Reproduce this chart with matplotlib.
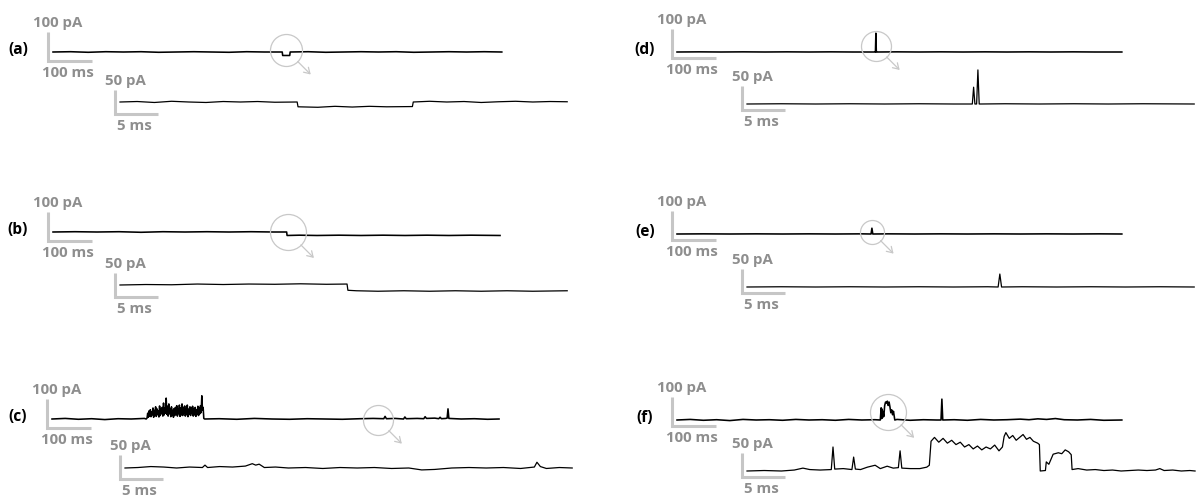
import matplotlib
matplotlib.use('Agg')
import matplotlib.pyplot as plt
from matplotlib.transforms import offset_copy

# ================= Global Style =================
plt.rcParams['font.family'] = ['Open Sans', 'DejaVu Sans']
plt.rcParams['font.weight'] = 'bold'

W, H = 1199, 497                 # output size in pixels
SX_TOP, SY_TOP = 0.44, 0.29      # px per ms, px per pA (overview traces)
SX_BOT, SY_BOT = 8.6, 0.48       # px per ms, px per pA (zoomed traces)

GRAY_TXT = '#8e8e8e'
GRAY_BAR = '#c6c6c6'
GRAY_CIRC = '#c8c8c8'

# ================= Data (time in ms, current in pA) =================
A_TOP_T = [0, 40, 80, 120, 160, 200, 240, 280, 320, 360, 400, 440, 480, 521, 522,
           538, 539, 580, 620, 660, 700, 740, 780, 820, 860, 900, 940, 980, 1020]
A_TOP_I = [0, 1, -1, 1, 0, 1, -1, 0, 1, 0, -1, 1, 0, 0, -12,
           -12, 0, 1, -1, 0, 1, 0, 1, -1, 0, 1, 0, 1, 0]
A_BOT_T = [0, 2, 4, 6, 8, 10, 12, 14, 16, 18, 20.6, 20.7, 23, 25, 27, 29, 31, 34.0,
           34.1, 36, 38, 40, 42, 44, 46, 48, 50, 52]
A_BOT_I = [0, 1, -1, 1.5, 0, -1, 1, 0, 1, -0.5, 0, -10, -11, -9, -10.5, -9, -10, -9.5,
           0, 1.5, 0, 1, -1, 0.5, 1.5, 0, 1, 0.5]

B_TOP_T = [0, 50, 100, 150, 200, 250, 300, 350, 400, 450, 500, 531, 532, 560, 600,
           650, 700, 750, 800, 850, 900, 950, 1016]
B_TOP_I = [0, 1, 0, 1, -1, 1, 0, 1, 0, 1, 0, 0, -12, -11, -12,
           -11, -12, -11, -12, -11, -12, -11, -12]
B_BOT_T = [0, 3, 6, 9, 12, 15, 18, 21, 24, 26.4, 26.5, 27.5, 30, 33, 36, 39, 42, 45, 48, 52]
B_BOT_I = [0, 1, 0.5, 2, 1, 2, 1.5, 2.5, 1.5, 2, -11, -12, -13, -12, -13, -12, -13, -12, -13, -12]

C_TOP_T = [0, 30, 60, 90, 120, 150, 180, 210, 214,
           216, 217.5, 219, 220.5, 222, 223.5, 225, 226.5, 228, 229.5,
           231, 232.5, 234, 235.5, 237, 238.5, 240, 241.5, 243, 244.5,
           246, 247.5, 249, 250.5, 252, 253.5, 255, 256.5, 258, 259.5,
           261, 262.5, 264, 265.5, 267, 268.5, 270, 271.5, 273, 274.5,
           276, 277.5, 279, 280.5, 282, 283.5, 285, 286.5, 288, 289.5,
           291, 292.5, 294, 295.5, 297, 298.5, 300, 301.5, 303, 304.5,
           306, 307.5, 309, 310.5, 312, 313.5, 315, 316.5, 318, 319.5,
           321, 322.5, 324, 325.5, 327, 328.5, 330, 331.5, 333, 334.5,
           336, 337.5, 339, 340.5, 342, 343.5, 345,
           347, 380, 420, 460, 500, 540, 580, 620, 660, 700,
           730, 754, 757, 760, 780, 799, 802, 805, 830, 845,
           848, 851, 870, 879, 882, 885, 895, 898, 900, 902,
           930, 960, 990, 1016]
C_TOP_I = [0, 2, -1, 1, -2, 1, 0, 2, 0,
           3, 20, 6, 28, 10, 32, 8, 25, 14, 38,
           6, 30, 12, 42, 9, 35, 15, 28, 7, 45,
           12, 36, 18, 40, 10, 55, 14, 38, 20, 72,
           16, 44, 10, 52, 18, 34, 8, 42, 14, 30,
           6, 36, 12, 40, 16, 46, 10, 33, 18, 48,
           9, 38, 14, 52, 12, 40, 20, 45, 10, 36,
           15, 48, 8, 34, 16, 42, 12, 38, 20, 44,
           10, 36, 14, 40, 9, 32, 16, 44, 12, 38,
           18, 46, 22, 80, 30, 40, 2,
           0, 1, -1, 2, 0, -1, 1, 0, -1, 1,
           2, 1, 9, 1, 2, 0, 7, 1, 2, 1,
           8, 2, 3, 1, 6, 1, 2, 3, 35, 2,
           0, 1, -1, 0]
C_BOT_T = [0, 1.5, 3, 4.5, 6, 7.5, 9, 9.3, 9.6, 11, 12.5, 14, 14.8, 15.2, 15.6, 16.2,
           17.5, 19, 21, 23, 25, 27, 29, 31, 33, 34.5, 36, 38, 40, 42, 44, 46,
           47.6, 47.9, 48.3, 49, 50.5, 52]
C_BOT_I = [0, 1, 3, 2, 0, 2, 1, 6, 1, 3, 2, 4, 9, 6, 8, 1,
           2, 0, 1, -1, 1, 0, 1, -1, 0, -4, -3, 0, 1, 0, 1, -1,
           2, 12, 3, -1, 1, 0]

D_TOP_T = [0, 50, 100, 150, 200, 250, 300, 350, 400, 449, 451, 452, 453, 455,
           500, 550, 600, 650, 700, 750, 800, 850, 900, 950, 1011]
D_TOP_I = [0, 0.5, 0, 0.5, 0, 0.5, 0, 0.5, 0, 0, 0, 65, 0, 0,
           0.5, 0, 0.5, 0, 0.5, 0, 0.5, 0, 0.5, 0, 0]
D_BOT_T = [0, 4, 8, 12, 16, 20, 24, 26.2, 26.35, 26.5, 26.7, 26.85, 27.0, 27.2,
           30, 34, 38, 42, 46, 52]
D_BOT_I = [0, 0.5, 0, 0.5, 0, 0.5, 0, 0, 35, 0, 0, 71, 0, 0,
           0.5, 0, 0.5, 0, 0.5, 0]

E_TOP_T = [0, 60, 120, 180, 240, 300, 360, 420, 441, 443, 445, 480, 540, 600, 660,
           720, 780, 840, 900, 960, 1011]
E_TOP_I = [0, 0.5, 0, 0.5, 0, 0.5, 0, 0.5, 0, 20, 0, 0.5, 0, 0.5, 0,
           0.5, 0, 0.5, 0, 0.5, 0]
E_BOT_T = [0, 4, 8, 12, 16, 20, 24, 28, 29.2, 29.4, 29.6, 32, 36, 40, 44, 48, 52]
E_BOT_I = [0, 0.5, 0, 0.5, 0, 0.5, 0, 0.5, 0, 27, 0, 0.5, 0, 0.5, 0, 0.5, 0]

F_TOP_T = [0, 30, 60, 90, 120, 150, 180, 210, 240, 270, 300, 330, 360, 390, 420, 450,
           462, 464, 465, 466, 467, 468, 470, 472, 474, 476,
           478, 480, 482, 484, 486, 488, 490, 492, 494, 495,
           500, 530, 560, 590, 600, 602, 604, 630, 660, 690,
           720, 750, 780, 800, 820, 840, 860, 880, 910, 940,
           970, 1011]
F_TOP_I = [0, 2, -1, 1, -2, 2, 0, 1, -1, 2, 0, 1, -1, 2, 0, 1,
           0, 42, 5, 38, 8, 30, 12, 50, 62, 58,
           65, 50, 62, 45, 25, 35, 18, 30, 10, 0,
           2, -1, 1, 0, 0, 72, 0, 1, -1, 2,
           0, 1, 3, 1, 4, 2, 5, 1, 0, 2,
           -1, 0]
F_BOT_T = [0, 2, 4, 5.5, 6.5, 7.3, 8.5, 9.8, 10.0, 10.2,
           11.2, 12.2, 12.4, 12.6, 13.2, 14.0, 14.9, 15.5, 16.3, 17.0,
           17.6, 17.8, 18.0, 19.0, 20.1, 20.9, 21.2, 21.4, 21.8, 22.3,
           22.8, 23.3, 23.8, 24.3, 24.8, 25.3, 25.8, 26.3, 26.8, 27.3,
           27.8, 28.3, 28.8, 29.3, 29.7, 29.9, 30.1, 30.5, 30.9, 31.3,
           31.7, 32.1, 32.5, 32.9, 33.3, 33.8, 34.0, 34.1, 34.7, 34.8,
           35.1, 35.6, 36.2, 36.6, 37.0, 37.4, 37.7, 37.8, 38.5, 39.5,
           40.5, 41.5, 42.5, 43.5, 44.5, 45.5, 46.5, 47.5, 48.0, 48.5,
           49.5, 50.5, 51.5, 52.1]
F_BOT_I = [0, 1, 0, 2, 6, 3, 2, 3, 50, 4,
           5, 3, 29, 4, 3, 8, 12, 5, 10, 6,
           7, 42, 6, 5, 5, 8, 12, 62, 70, 60,
           68, 58, 64, 55, 60, 50, 55, 46, 52, 44,
           50, 46, 54, 42, 50, 72, 80, 68, 74, 64,
           70, 76, 66, 70, 62, 58, 55, 0, 1, 19,
           14, 35, 38, 36, 44, 40, 34, 3, 5, 2,
           3, 1, 2, 0, 1, 2, 1, 2, 5, 1,
           2, 0, 1, 0]

# circled event on the overview trace: (time ms, current pA, radius px)
CIRCLES = {'a': (530, 7, 16), 'b': (534, 0, 18), 'c': (741, -3, 15),
           'd': (452, 20, 15), 'e': (443, 7, 12), 'f': (480, 28, 18)}

# ================= Layout (pixels) =================
# label, label_x, top trace start x / baseline y, bottom trace start x / baseline y,
# scale-bar depth below trace (top, bottom), data
PANELS = [
    ('a', 18, 53, 52, 120, 102, 9, 12, A_TOP_T, A_TOP_I, A_BOT_T, A_BOT_I),
    ('b', 18, 53, 232, 120, 285, 9, 12, B_TOP_T, B_TOP_I, B_BOT_T, B_BOT_I),
    ('c', 18, 52, 419, 125, 468, 9, 11, C_TOP_T, C_TOP_I, C_BOT_T, C_BOT_I),
    ('d', 645, 677, 52, 747, 104, 6, 6, D_TOP_T, D_TOP_I, D_BOT_T, D_BOT_I),
    ('e', 645, 677, 234, 747, 287, 6, 6, E_TOP_T, E_TOP_I, E_BOT_T, E_BOT_I),
    ('f', 645, 677, 420, 747, 471, 6, 6, F_TOP_T, F_TOP_I, F_BOT_T, F_BOT_I),
]

fig = plt.figure(figsize=(W / 100, H / 100), dpi=100)


def trace_axes(x0, y0, sx, sy):
    # full-figure axes whose data origin sits at pixel (x0, y0) from the top-left
    ax = fig.add_axes([0, 0, 1, 1])
    ax.set_xlim(-x0 / sx, (W - x0) / sx)
    ax.set_ylim(-(H - y0) / sy, y0 / sy)
    ax.axis('off')
    return ax


def px_text(x, y, s, **kw):
    fig.text(x / W, 1 - y / H, s, ha='center', va='center', **kw)


def scale_bar(ax, x0, y0, dx_px, dy_px, sx, sy, dt, di, t_lab, i_lab):
    tb, ib = -dx_px / sx, -dy_px / sy
    ax.plot([tb, tb, tb + dt], [ib + di, ib, ib], color=GRAY_BAR, lw=2.2,
            solid_capstyle='butt', solid_joinstyle='miter')
    bx = x0 - dx_px
    corner = y0 + dy_px
    top = corner - di * sy
    px_text(bx + 10, top - 9, i_lab, color=GRAY_TXT, fontsize=10.8)
    px_text(bx + dt * sx / 2 - 2, corner + 12, t_lab, color=GRAY_TXT, fontsize=10.8)


for (lab, lx, tx, ty, bx, by, tdy, bdy, tt, ti, bt, bi) in PANELS:
    px_text(lx, ty - 2, f'({lab})', color='black', fontsize=11.2)

    # overview trace
    ax = trace_axes(tx, ty, SX_TOP, SY_TOP)
    ax.plot(tt, ti, color='black', lw=1.15)
    scale_bar(ax, tx, ty, 5, tdy, SX_TOP, SY_TOP, 100, 100, '100 ms', '100 pA')

    tc, ic, r = CIRCLES[lab]
    ax.plot([tc], [ic], 'o', ms=2 * r * 0.72, mfc='none', mec=GRAY_CIRC, mew=0.9)
    a0 = r * 0.72
    a1 = a0 + 13
    ax.annotate('', xy=(tc, ic),
                xycoords=offset_copy(ax.transData, fig=fig, x=a1, y=-a1, units='dots'),
                xytext=(tc, ic),
                textcoords=offset_copy(ax.transData, fig=fig, x=a0, y=-a0, units='dots'),
                arrowprops=dict(arrowstyle='->,head_length=0.4,head_width=0.25',
                                color=GRAY_CIRC, lw=0.9, shrinkA=0, shrinkB=0))

    # zoomed trace
    ax2 = trace_axes(bx, by, SX_BOT, SY_BOT)
    ax2.plot(bt, bi, color='black', lw=0.9)
    scale_bar(ax2, bx, by, 5, bdy, SX_BOT, SY_BOT, 5, 50, '5 ms', '50 pA')

fig.savefig('out.png', dpi=100, facecolor='white')
